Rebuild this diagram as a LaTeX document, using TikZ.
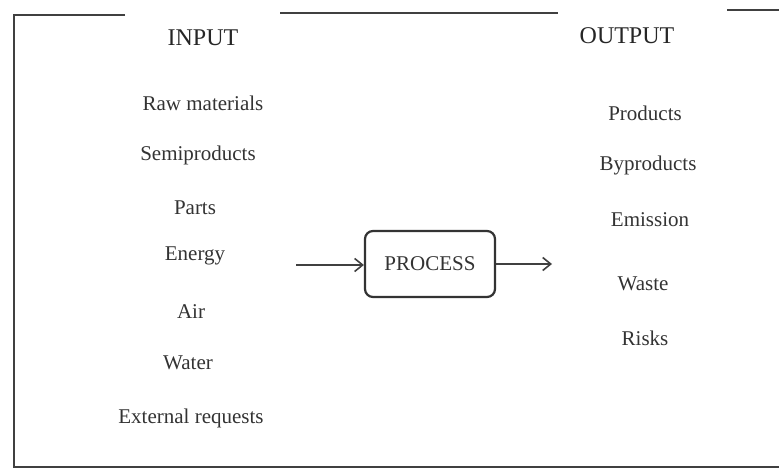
\documentclass[tikz,border=0pt]{standalone}
\usepackage{fontspec}
\setmainfont{Liberation Serif}
\usetikzlibrary{arrows.meta}
\begin{document}
\begin{tikzpicture}[x=1pt,y=-1pt,
  frameline/.style={draw=black!75,line width=2.2pt},
  item/.style={text=black!80,font=\fontsize{21}{25}\selectfont,inner sep=0pt},
  head/.style={text=black!85,font=\fontsize{24}{28}\selectfont,inner sep=0pt},
  procbox/.style={draw=black!80,line width=2.2pt,rounded corners=8pt,minimum width=130pt,minimum height=66pt,text=black!80,font=\fontsize{21}{25}\selectfont},
  flow/.style={draw=black!75,line width=1.6pt,-{Straight Barb[length=8pt,width=13pt,line width=1.6pt]}}]
\useasboundingbox (0,0) rectangle (779,470);
\fill[white] (0,0) rectangle (779,470);
% frame
\coordinate (fa) at (125,15);
\coordinate (fb) at (14,15);
\coordinate (fc) at (14,467);
\coordinate (fd) at (779,467);
\coordinate (ta) at (280,13);
\coordinate (tb) at (558,13);
\coordinate (tc) at (727,10);
\coordinate (td) at (779,10);
\draw[frameline] (fa) -- (fb) -- (fc) -- (fd);
\draw[frameline] (ta) -- (tb);
\draw[frameline] (tc) -- (td);
% headings
\node[head] (input) at (203,38) {INPUT};
\node[head] (output) at (627,36) {OUTPUT};
% inputs
\node[item] (i1) at (203,103) {Raw materials};
\node[item] (i2) at (198,155) {Semiproducts};
\node[item] (i3) at (195,208) {Parts};
\node[item] (i4) at (195,256) {Energy};
\node[item] (i5) at (191,312) {Air};
\node[item] (i6) at (188,363) {Water};
\node[item] (i7) at (191,418) {External requests};
% outputs
\node[item] (o1) at (645,113) {Products};
\node[item] (o2) at (648,165) {Byproducts};
\node[item] (o3) at (650,220) {Emission};
\node[item] (o4) at (643,284) {Waste};
\node[item] (o5) at (645,338) {Risks};
% process
\node[procbox] (proc) at (430,264) {PROCESS};
\coordinate (inS) at (296,265);
\coordinate (outE) at (552,264);
\draw[flow] (inS) -- (proc.west |- inS);
\draw[flow] (proc.east |- outE) -- (outE);
\end{tikzpicture}
\end{document}
